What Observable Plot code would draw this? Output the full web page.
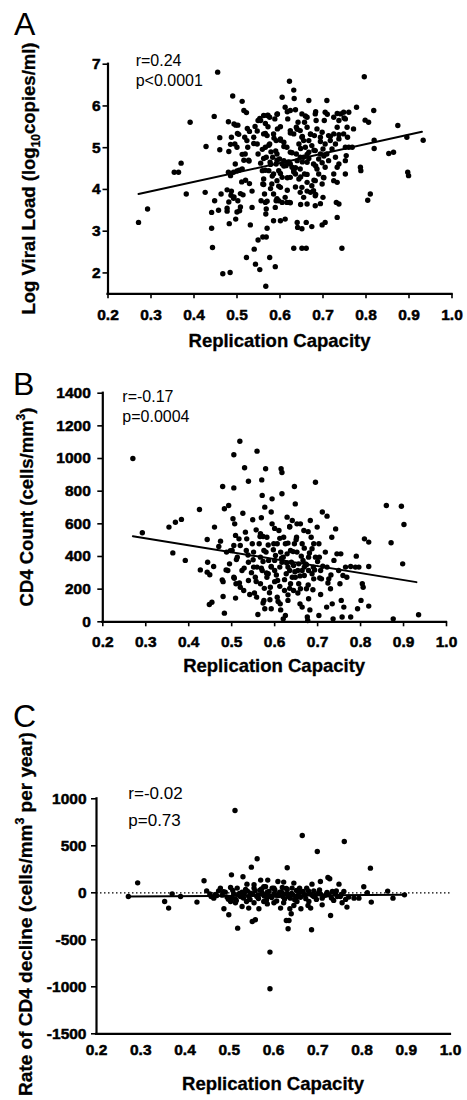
<!DOCTYPE html>
<html><head><meta charset="utf-8">
<script src="https://cdn.jsdelivr.net/npm/d3@7"></script>
<script src="https://cdn.jsdelivr.net/npm/@observablehq/plot@0.6"></script>
<style>
body{margin:0;background:#fff;}
#fig{position:relative;width:467px;height:1100px;overflow:hidden;background:#fff;}
</style></head><body><div id="fig"></div>
<script>
// ---------- shared ----------
const rcDomain = [0.2, 1.0];
const rcTicks = [0.2, 0.3, 0.4, 0.5, 0.6, 0.7, 0.8, 0.9, 1.0];

// ---------- Panel A: Log viral load vs replication capacity ----------
const vlDomain = [1.5, 7];
const vlTicks = [2, 3, 4, 5, 6, 7];
const vlPoints = [[0.271,3.21],[0.292,3.53],[0.354,4.41],[0.364,4.41],[0.370,4.63],[0.391,5.61],[0.382,3.89],[0.428,5.03],[0.426,3.93],[0.455,6.81],[0.447,5.75],[0.460,5.24],[0.460,4.95],[0.441,3.07],[0.443,2.61],[0.441,3.45],[0.448,3.73],[0.457,3.50],[0.463,3.89],[0.467,1.98],[0.484,2.01],[0.482,3.18],[0.477,3.55],[0.481,3.70],[0.486,3.86],[0.477,3.99],[0.487,3.96],[0.480,4.41],[0.481,4.91],[0.480,5.62],[0.490,6.24],[0.487,5.25],[0.485,4.33],[0.492,4.41],[0.496,4.61],[0.495,5.09],[0.500,5.01],[0.502,5.54],[0.497,5.54],[0.501,5.34],[0.497,3.29],[0.500,3.46],[0.506,3.49],[0.492,3.79],[0.502,3.73],[0.508,3.90],[0.512,6.11],[0.516,5.89],[0.522,5.84],[0.514,3.87],[0.511,4.18],[0.505,4.46],[0.512,4.49],[0.516,4.70],[0.519,4.85],[0.523,5.17],[0.518,5.25],[0.529,5.39],[0.525,5.01],[0.527,4.70],[0.529,4.14],[0.531,3.15],[0.535,3.57],[0.522,2.37],[0.540,2.57],[0.543,2.21],[0.553,2.08],[0.549,2.79],[0.560,2.86],[0.568,2.86],[0.567,1.68],[0.576,2.37],[0.589,2.15],[0.570,3.07],[0.567,3.41],[0.568,3.53],[0.566,3.69],[0.564,3.89],[0.556,3.73],[0.560,4.13],[0.562,4.25],[0.559,4.45],[0.555,4.63],[0.549,4.85],[0.547,5.09],[0.539,5.25],[0.542,5.51],[0.549,5.65],[0.553,5.70],[0.562,5.77],[0.570,5.77],[0.576,5.73],[0.566,5.58],[0.572,5.50],[0.562,5.33],[0.570,5.29],[0.576,5.09],[0.566,5.01],[0.579,4.90],[0.568,4.77],[0.577,4.65],[0.574,4.45],[0.585,4.37],[0.581,4.13],[0.585,3.89],[0.591,3.73],[0.589,3.57],[0.585,3.25],[0.601,3.25],[0.612,3.29],[0.597,3.73],[0.605,3.69],[0.616,3.69],[0.622,3.69],[0.612,3.81],[0.601,4.05],[0.593,4.21],[0.605,4.29],[0.597,4.45],[0.591,4.61],[0.583,4.77],[0.593,4.85],[0.599,4.73],[0.605,4.61],[0.609,4.69],[0.614,4.57],[0.618,4.65],[0.624,4.61],[0.628,4.53],[0.632,4.45],[0.636,4.37],[0.624,4.29],[0.644,4.25],[0.640,4.69],[0.647,4.77],[0.638,4.85],[0.624,4.89],[0.616,5.01],[0.609,5.13],[0.601,5.21],[0.591,5.17],[0.585,5.33],[0.594,5.45],[0.601,5.50],[0.588,5.69],[0.594,5.81],[0.612,5.97],[0.605,6.21],[0.622,6.59],[0.632,6.38],[0.633,6.18],[0.624,5.89],[0.618,5.69],[0.624,5.41],[0.632,5.33],[0.638,5.49],[0.642,5.61],[0.647,5.41],[0.651,5.25],[0.655,5.17],[0.644,5.09],[0.659,5.01],[0.667,4.89],[0.655,4.77],[0.663,4.65],[0.647,4.49],[0.657,4.37],[0.663,4.17],[0.651,4.05],[0.647,3.93],[0.655,3.81],[0.663,3.65],[0.671,3.93],[0.678,3.97],[0.682,3.85],[0.674,4.09],[0.682,4.21],[0.690,4.37],[0.686,4.49],[0.678,4.61],[0.690,4.73],[0.694,4.85],[0.682,4.93],[0.674,5.05],[0.667,5.17],[0.671,5.33],[0.663,5.49],[0.657,5.61],[0.663,5.73],[0.651,5.81],[0.667,6.13],[0.682,5.81],[0.684,5.65],[0.686,5.45],[0.680,5.29],[0.694,5.25],[0.698,5.37],[0.705,5.85],[0.709,6.13],[0.703,5.65],[0.713,5.29],[0.717,5.17],[0.705,5.09],[0.700,4.97],[0.709,4.85],[0.713,4.69],[0.705,4.53],[0.701,4.29],[0.698,4.13],[0.700,3.81],[0.682,3.61],[0.674,3.11],[0.698,3.15],[0.705,3.21],[0.661,3.21],[0.640,3.21],[0.632,2.59],[0.651,2.59],[0.661,2.59],[0.651,3.06],[0.641,3.09],[0.744,2.59],[0.733,3.33],[0.731,3.69],[0.737,3.65],[0.725,4.21],[0.733,4.17],[0.725,4.37],[0.733,4.53],[0.737,4.61],[0.729,4.77],[0.721,4.97],[0.729,5.09],[0.737,5.21],[0.725,5.33],[0.733,5.49],[0.737,5.65],[0.725,5.73],[0.741,5.81],[0.748,5.85],[0.760,5.85],[0.752,5.69],[0.756,5.49],[0.748,5.33],[0.757,5.25],[0.752,5.01],[0.754,4.81],[0.752,4.69],[0.752,4.37],[0.760,5.01],[0.768,5.01],[0.771,5.45],[0.778,5.97],[0.787,4.53],[0.788,4.45],[0.798,5.66],[0.796,6.70],[0.806,5.61],[0.818,5.89],[0.819,5.18],[0.819,4.98],[0.810,3.89],[0.804,3.74],[0.853,4.86],[0.864,4.89],[0.874,5.53],[0.895,5.25],[0.897,4.41],[0.899,4.33],[0.933,5.18],
[0.555,5.65],[0.572,5.78],[0.593,5.80],[0.617,5.86],[0.636,5.91],[0.659,5.76],[0.683,5.86],[0.710,5.80],[0.733,5.82],[0.749,5.71],[0.547,5.40],[0.566,5.34],[0.586,5.23],[0.601,5.18],[0.624,5.35],[0.640,5.44],[0.652,5.27],[0.671,5.32],[0.694,5.15],[0.717,5.27],[0.737,5.31],[0.539,5.10],[0.559,4.96],[0.574,5.06],[0.590,4.92],[0.609,5.03],[0.628,4.88],[0.648,4.98],[0.663,4.84],[0.679,4.94],[0.702,4.80],[0.562,4.74],[0.578,4.60],[0.593,4.70],[0.609,4.56],[0.621,4.66],[0.636,4.52],[0.652,4.66],[0.667,4.74],[0.683,4.56],[0.698,4.64],[0.566,4.46],[0.582,4.32],[0.601,4.38],[0.617,4.28],[0.632,4.42],[0.648,4.30],[0.663,4.36],[0.679,4.22],[0.702,4.28],[0.562,4.12],[0.578,4.02],[0.597,4.08],[0.617,3.98],[0.636,4.06],[0.663,3.96],[0.683,3.88],[0.570,3.72],[0.593,3.78],[0.624,3.68],[0.648,3.64],[0.694,3.66],[0.493,5.57],[0.504,5.32],[0.524,5.46],[0.485,5.08],[0.512,4.84],[0.528,4.68],[0.500,4.44],[0.520,4.22],[0.535,3.96],[0.493,3.82],[0.477,3.48],[0.508,3.58]];
const vlFitRC = [0.271, 0.930];
const vlFit = [3.89, 5.38];

// ---------- Panel B: CD4 count vs replication capacity ----------
const cdDomain = [0, 1400];
const cdTicks = [0, 200, 400, 600, 800, 1000, 1200, 1400];
const cdPoints = [[0.270,1000],[0.292,545],[0.354,580],[0.369,610],[0.383,627],[0.363,422],[0.392,376],[0.425,688],[0.427,318],[0.443,504],[0.444,365],[0.443,304],[0.449,288],[0.448,106],[0.454,120],[0.458,339],[0.460,580],[0.470,461],[0.474,494],[0.479,829],[0.483,692],[0.493,712],[0.478,257],[0.480,155],[0.483,53],[0.488,427],[0.491,314],[0.495,355],[0.501,437],[0.505,1023],[0.505,820],[0.503,631],[0.507,600],[0.509,529],[0.505,467],[0.513,396],[0.505,273],[0.510,233],[0.509,145],[0.519,1106],[0.520,467],[0.517,508],[0.524,314],[0.520,212],[0.528,192],[0.530,943],[0.526,665],[0.532,549],[0.535,508],[0.534,437],[0.539,365],[0.539,253],[0.542,167],[0.539,861],[0.549,625],[0.551,427],[0.551,335],[0.555,273],[0.559,1045],[0.558,151],[0.561,45],[0.564,478],[0.567,396],[0.567,539],[0.570,869],[0.571,774],[0.569,637],[0.573,522],[0.575,437],[0.571,314],[0.567,233],[0.575,131],[0.577,80],[0.579,937],[0.577,702],[0.582,518],[0.586,376],[0.585,294],[0.590,212],[0.589,135],[0.592,80],[0.594,753],[0.592,672],[0.594,600],[0.598,478],[0.602,406],[0.600,314],[0.607,253],[0.606,151],[0.613,110],[0.614,73],[0.610,559],[0.614,427],[0.617,365],[0.615,937],[0.617,914],[0.617,784],[0.620,18],[0.625,39],[0.621,518],[0.625,478],[0.627,294],[0.623,192],[0.631,131],[0.629,641],[0.635,580],[0.637,437],[0.639,365],[0.641,273],[0.644,192],[0.646,829],[0.648,722],[0.651,518],[0.652,427],[0.654,314],[0.656,233],[0.659,110],[0.664,90],[0.660,600],[0.664,478],[0.666,376],[0.669,284],[0.674,202],[0.676,29],[0.677,8],[0.679,141],[0.682,73],[0.683,620],[0.685,518],[0.687,447],[0.690,335],[0.691,263],[0.695,855],[0.699,580],[0.703,478],[0.704,396],[0.707,314],[0.709,263],[0.707,167],[0.703,39],[0.711,672],[0.722,647],[0.718,427],[0.722,335],[0.726,263],[0.721,90],[0.730,202],[0.734,110],[0.733,518],[0.736,18],[0.742,569],[0.738,376],[0.745,416],[0.749,314],[0.752,233],[0.755,131],[0.754,416],[0.761,90],[0.759,284],[0.765,335],[0.768,273],[0.757,29],[0.777,29],[0.777,339],[0.788,335],[0.790,402],[0.793,80],[0.796,335],[0.804,233],[0.806,212],[0.801,131],[0.809,508],[0.819,488],[0.819,339],[0.819,96],[0.860,712],[0.871,484],[0.876,18],[0.895,708],[0.898,355],[0.901,596],[0.935,43],[0.548,478],[0.559,335],[0.580,427],[0.592,335],[0.600,376],[0.612,335],[0.620,396],[0.631,335],[0.635,314],[0.644,345],[0.656,355],[0.664,314],[0.672,355],[0.679,314],[0.687,294],[0.695,396],[0.646,478],[0.629,416],[0.606,478],[0.582,273],[0.637,233],[0.648,273],[0.660,202],[0.669,335],[0.679,396],[0.691,478],[0.668,559],[0.652,600],[0.641,620],
[0.497,436],[0.511,381],[0.529,329],[0.546,301],[0.557,247],[0.576,205],[0.588,178],[0.608,124],[0.566,522],[0.585,470],[0.597,441],[0.616,389],[0.628,360],[0.647,307],[0.659,281],[0.678,226],[0.689,196],[0.573,369],[0.592,339],[0.604,287],[0.623,258],[0.635,205],[0.654,176],[0.612,511],[0.631,482],[0.643,430],[0.662,402],[0.674,349],[0.693,318],[0.705,268],[0.724,238],[0.538,409],[0.550,380],[0.569,328],[0.581,299],[0.600,246],[0.612,217],[0.631,165],[0.650,503],[0.669,451],[0.681,421],[0.700,369],[0.712,340],[0.731,287],[0.487,318],[0.506,267],[0.518,238],[0.480,246],[0.553,176],[0.573,115],[0.678,552],[0.635,584],[0.600,572],[0.557,563]];
const cdFitRC = [0.270, 0.930];
const cdFit = [524, 243];

// ---------- Panel C: rate of CD4 decline vs replication capacity ----------
const rtDomain = [-1500, 1000];
const rtTicks = [-1500, -1000, -500, 0, 500, 1000];
const rtPoints = [[0.272,-39],[0.293,106],[0.354,-92],[0.363,-163],[0.371,-11],[0.390,-39],[0.427,-99],[0.443,128],[0.449,21],[0.456,-11],[0.459,-39],[0.465,-57],[0.476,21],[0.480,50],[0.484,-25],[0.488,-170],[0.499,-234],[0.503,-92],[0.505,191],[0.510,-11],[0.513,876],[0.514,-106],[0.518,50],[0.519,-376],[0.525,-39],[0.531,170],[0.534,-11],[0.539,-92],[0.540,92],[0.550,273],[0.552,-305],[0.559,-287],[0.563,362],[0.556,50],[0.562,-39],[0.567,-170],[0.571,135],[0.574,0],[0.578,-92],[0.582,64],[0.587,135],[0.589,-39],[0.592,-631],[0.592,-1021],[0.597,50],[0.601,-106],[0.605,-25],[0.610,121],[0.616,-163],[0.620,57],[0.623,114],[0.627,-11],[0.631,266],[0.629,-294],[0.633,-383],[0.635,-294],[0.637,-170],[0.640,-223],[0.642,50],[0.646,103],[0.650,-39],[0.653,-92],[0.657,0],[0.662,-170],[0.665,610],[0.669,-25],[0.675,50],[0.680,-92],[0.684,-163],[0.686,-393],[0.687,92],[0.691,-39],[0.699,440],[0.702,0],[0.706,121],[0.710,-57],[0.718,-25],[0.723,163],[0.727,149],[0.729,-241],[0.733,14],[0.736,-81],[0.740,-11],[0.748,92],[0.751,-39],[0.755,-106],[0.759,14],[0.760,546],[0.766,-152],[0.770,-46],[0.782,-57],[0.793,-57],[0.804,64],[0.812,0],[0.819,262],[0.821,-99],[0.858,18],[0.870,-57],[0.896,-22],[0.469,-18],[0.491,7],[0.495,-46],[0.506,-57],[0.521,-22],[0.529,7],[0.544,-39],[0.548,-4],[0.565,-22],[0.569,28],[0.582,-22],[0.586,7],[0.594,-39],[0.601,-11],[0.608,-25],[0.614,7],[0.621,-39],[0.632,-11],[0.638,-57],[0.644,-22],[0.654,-39],[0.659,7],[0.672,-22],[0.682,-11],[0.695,-22],[0.706,-11],[0.725,-22],[0.744,-39],[0.503,57],[0.537,35],[0.556,85],[0.578,64],[0.601,50],[0.631,35],[0.659,50],[0.691,21],[0.556,-106],[0.586,-118],[0.623,-106],[0.646,-135],[0.678,-135],[0.514,-67],[0.529,-145],[0.544,-163],[0.710,-128],
[0.472,-30],[0.487,12],[0.498,-68],[0.508,25],[0.516,-83],[0.523,-8],[0.532,-55],[0.541,18],[0.547,-72],[0.553,-15],[0.558,22],[0.566,-60],[0.573,40],[0.579,-35],[0.584,-78],[0.590,15],[0.596,-50],[0.603,30],[0.607,-88],[0.612,-30],[0.618,10],[0.625,-65],[0.629,45],[0.634,-40],[0.641,-8],[0.648,-75],[0.652,25],[0.661,-48],[0.667,14],[0.673,-62],[0.679,20],[0.688,-30],[0.697,-70],[0.704,30],[0.713,-35],[0.721,5],[0.731,-55],[0.742,20],[0.753,-18],[0.763,-70]];
const rtFitRC = [0.269, 0.898];
const rtFit = [-39, -21];

// ---------- texts ----------
const xTitle = "Replication Capacity";
const panels = [
  {letter: "A", top: 0, height: 370, mt: 63.7, mb: 76.7, ml: 107.5, mr: 15.5,
   points: vlPoints, domain: vlDomain, ticks: vlTicks, fitX: vlFitRC, fitY: vlFit,
   xTickSize: 5, xTickPad: 10, yTickPad: 2.5,
   ann: ["r=0.24", "p<0.0001"], annX: 135.7, annY: [60, 80], annSize: 16,
   letterX: 14, letterY: 35,
   yTitle: [{t: "Log Viral Load (log"}, {t: "10", sub: true}, {t: "copies/ml)"}],
   yTitleX: 35, yTitleY: 178.5, titleSize: 18.5, xTitleY: 340},
  {letter: "B", top: 370, height: 320, mt: 22.7, mb: 68.7, ml: 102.3, mr: 21,
   points: cdPoints, domain: cdDomain, ticks: cdTicks, fitX: cdFitRC, fitY: cdFit,
   xTickSize: 5, xTickPad: 9, yTickPad: 7,
   ann: ["r=-0.17", "p=0.0004"], annX: 122.3, annY: [26.7, 46.7], annSize: 16,
   letterX: 13, letterY: 25,
   yTitle: [{t: "CD4 Count (cells/mm"}, {t: "3", sup: true}, {t: ")"}],
   yTitleX: 33, yTitleY: 137, titleSize: 18.5, xTitleY: 295},
  {letter: "C", top: 690, height: 410, mt: 108.3, mb: 66.7, ml: 96, mr: 17,
   points: rtPoints, domain: rtDomain, ticks: rtTicks, fitX: rtFitRC, fitY: rtFit,
   xTickSize: 0, xTickPad: 10, yTickPad: 5, zero: true,
   ann: ["r=-0.02", "p=0.73"], annX: 128.3, annY: [102.7, 130], annSize: 17,
   letterX: 13, letterY: 37,
   yTitle: [{t: "Rate of CD4 decline (cells/mm"}, {t: "3", sup: true}, {t: " per year)"}],
   yTitleX: 31.7, yTitleY: 224, titleSize: 19, xTitleY: 393.3}
];

const FONT = '"Liberation Sans", Arial, Helvetica, sans-serif';
const TICK_SIZE = 15.5;
const fig = document.getElementById("fig");

for (const p of panels) {
  const fit = p.fitX.map((x, i) => ({x, y: p.fitY[i]}));
  const svg = Plot.plot({
    width: 467, height: p.height,
    marginTop: p.mt, marginBottom: p.mb, marginLeft: p.ml, marginRight: p.mr,
    style: {fontFamily: FONT, background: "white", color: "black", overflow: "visible"},
    x: {domain: rcDomain},
    y: {domain: p.domain},
    marks: [
      p.zero ? Plot.ruleY([0], {stroke: "black", strokeWidth: 1.2, strokeDasharray: "1.5,2.5"}) : null,
      Plot.axisX(rcTicks, {tickFormat: d3.format(".1f"), tickSize: p.xTickSize, tickPadding: p.xTickPad, label: null, strokeWidth: 1.6,
        fontSize: TICK_SIZE, fontWeight: "bold"}),
      Plot.axisY(p.ticks, {tickFormat: d => String(d), tickSize: 5, tickPadding: p.yTickPad, label: null, strokeWidth: 1.6,
        fontSize: TICK_SIZE, fontWeight: "bold"}),
      Plot.ruleY([p.domain[0]], {x1: rcDomain[0], x2: rcDomain[1], stroke: "black", strokeWidth: 2.2, strokeLinecap: "square"}),
      Plot.ruleX([rcDomain[0]], {y1: p.domain[0], y2: p.domain[1], stroke: "black", strokeWidth: 2.2, strokeLinecap: "square"}),
      Plot.dot(p.points, {x: d => d[0], y: d => d[1], r: 2.7, fill: "black", stroke: null}),
      Plot.line(fit, {x: "x", y: "y", stroke: "black", strokeWidth: 2})
    ]
  });
  svg.style.position = "absolute";
  svg.style.left = "0px";
  svg.style.top = p.top + "px";
  fig.appendChild(svg);

  const s = d3.select(svg);
  // Plot's own texts are the tick labels: heavy bold like the original figure
  s.selectAll("text")
    .style("font-size", TICK_SIZE + "px").style("font-weight", "bold")
    .style("font-family", FONT).style("fill", "black")
    .style("stroke", "black").style("stroke-width", "0.5px");

  const addText = (x, y, txt, size, weight, anchor) =>
    s.append("text").attr("x", x).attr("y", y)
      .style("font-family", FONT).style("font-size", size + "px").style("font-weight", weight)
      .attr("text-anchor", anchor).style("fill", "black").text(txt);

  // panel letter
  addText(p.letterX, p.letterY, p.letter, 32, "normal", "start");
  // annotation
  p.ann.forEach((t, i) => addText(p.annX, p.annY[i], t, p.annSize, "normal", "start").attr("dy", "0.36em"));
  // x title
  addText(p.ml + (467 - p.ml - p.mr) / 2, p.xTitleY, xTitle, 18.5, "bold", "middle")
    .attr("dy", "0.36em").style("stroke", "black").style("stroke-width", "0.3px");
  // y title (rotated) with sub/superscript
  const fs = p.titleSize;
  const yt = s.append("text")
    .attr("transform", `translate(${p.yTitleX},${p.yTitleY}) rotate(-90)`)
    .attr("dy", "0.36em").attr("text-anchor", "middle")
    .style("font-family", FONT).style("font-size", fs + "px").style("font-weight", "bold")
    .style("fill", "black").style("stroke", "black").style("stroke-width", "0.3px");
  let shift = 0;
  p.yTitle.forEach(part => {
    const ts = yt.append("tspan").text(part.t);
    let target = 0;
    if (part.sub) { target = 0.28 * fs; ts.style("font-size", (0.65 * fs) + "px"); }
    if (part.sup) { target = -0.42 * fs; ts.style("font-size", (0.65 * fs) + "px"); }
    ts.attr("dy", target - shift);
    shift = target;
  });
}
</script>
</body></html>
